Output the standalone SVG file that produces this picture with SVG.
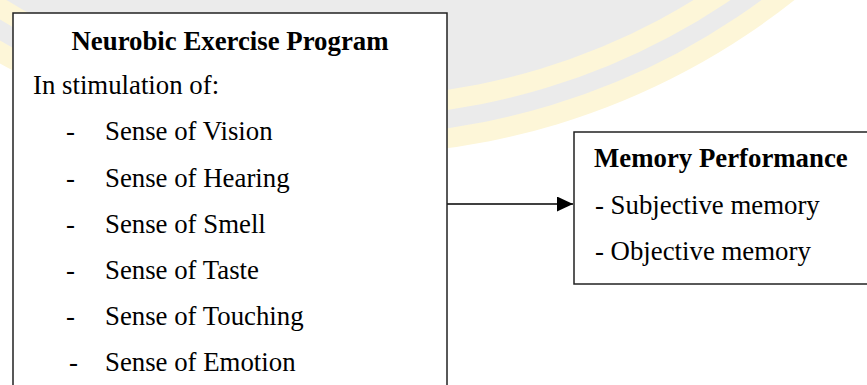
<svg xmlns="http://www.w3.org/2000/svg" width="867" height="385" viewBox="0 0 867 385">
  <style>
    .t { font-family: "Liberation Serif", "Times New Roman", serif; font-size: 26.8px; fill: #000; }
    .b { font-weight: bold; }
    .box { fill: #ffffff; stroke: #222; stroke-width: 1.5; }
    .conn { stroke: #000; stroke-width: 1.3; fill: none; }
  </style>
  <defs>
    <marker id="arrow" markerWidth="16" markerHeight="15" refX="16" refY="7.5" orient="auto" markerUnits="userSpaceOnUse">
      <path d="M0,0 L16,7.5 L0,15 Z" fill="#000"/>
    </marker>
  </defs>
  <rect width="867" height="385" fill="#ffffff"/>
  <g id="watermark">
    <circle cx="350" cy="-560" r="715" fill="#fdf6d8"/>
    <circle cx="350" cy="-560" r="695" fill="#ebebeb"/>
    <circle cx="350" cy="-560" r="677" fill="#fdf6d8"/>
    <circle cx="350" cy="-560" r="657" fill="#ebebeb"/>
  </g>
  <g id="connectors">
    <line class="conn" x1="447" y1="204" x2="573" y2="204" marker-end="url(#arrow)"/>
  </g>
  <g id="neurobic">
    <rect class="box" x="13" y="13" width="434" height="400"/>
    <text class="t b" x="230" y="50" text-anchor="middle">Neurobic Exercise Program</text>
    <text class="t" x="33" y="94">In stimulation of:</text>
    <text class="t" x="66" y="140">-</text>
    <text class="t" x="105" y="140">Sense of Vision</text>
    <text class="t" x="66" y="186.5">-</text>
    <text class="t" x="105" y="186.5">Sense of Hearing</text>
    <text class="t" x="66" y="233">-</text>
    <text class="t" x="105" y="233">Sense of Smell</text>
    <text class="t" x="66" y="279">-</text>
    <text class="t" x="105" y="279">Sense of Taste</text>
    <text class="t" x="66" y="325">-</text>
    <text class="t" x="105" y="325">Sense of Touching</text>
    <text class="t" x="69" y="371">-</text>
    <text class="t" x="105" y="371">Sense of Emotion</text>
  </g>
  <g id="memory">
    <rect class="box" x="574" y="132" width="310" height="152"/>
    <text class="t b" x="594" y="167">Memory Performance</text>
    <text class="t" x="595" y="214">- Subjective memory</text>
    <text class="t" x="595" y="260">- Objective memory</text>
  </g>
</svg>
